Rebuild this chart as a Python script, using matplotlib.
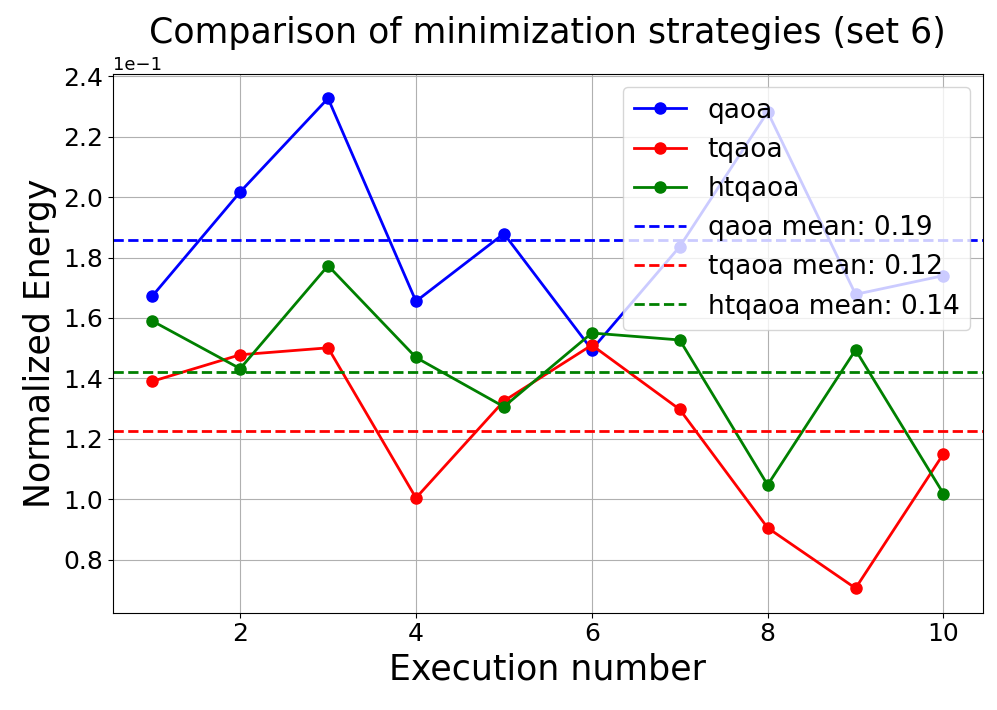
import matplotlib
matplotlib.use("Agg")
import matplotlib.pyplot as plt
import numpy as np

runs = [1, 2, 3, 4, 5, 6, 7, 8, 9, 10]
qaoa = [0.1672, 0.2017, 0.2327, 0.1655, 0.1879, 0.1495, 0.1836, 0.2282, 0.1678, 0.1740]
tqaoa = [0.1390, 0.1478, 0.1501, 0.1004, 0.1325, 0.1510, 0.1297, 0.0905, 0.0705, 0.1150]
htqaoa = [0.1590, 0.1432, 0.1773, 0.1469, 0.1306, 0.1550, 0.1527, 0.1047, 0.1494, 0.1018]

fig, ax = plt.subplots(figsize=(9.97, 7.1), dpi=100)
fig.subplots_adjust(left=0.113, right=0.986, top=0.896, bottom=0.137)

ax.plot(runs, qaoa, 'o-', color='blue', lw=2, ms=8, label='qaoa')
ax.plot(runs, tqaoa, 'o-', color='red', lw=2, ms=8, label='tqaoa')
ax.plot(runs, htqaoa, 'o-', color='green', lw=2, ms=8, label='htqaoa')

for vals, c, name in [(qaoa, 'blue', 'qaoa'), (tqaoa, 'red', 'tqaoa'), (htqaoa, 'green', 'htqaoa')]:
    m = np.mean(vals)
    ax.axhline(m, color=c, ls='--', lw=2, label=f'{name} mean: {m:.2f}')

ax.ticklabel_format(style='sci', axis='y', scilimits=(0, 0))
ax.yaxis.get_offset_text().set_fontsize(13)
ax.tick_params(labelsize=18)
ax.set_xlabel('Execution number', fontsize=25)
ax.set_ylabel('Normalized Energy', fontsize=25)
ax.set_title('Comparison of minimization strategies (set 6)', fontsize=25, pad=9)
ax.grid(True)
ax.legend(fontsize=19, loc='upper right')

fig.savefig('out.png')
